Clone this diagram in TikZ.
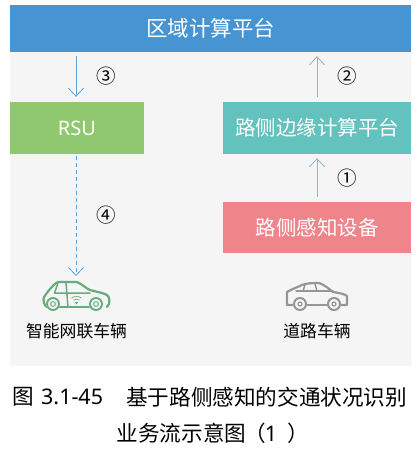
\documentclass[tikz,border=0pt]{standalone}
\usepackage{fontspec}
\setmainfont{Noto Sans CJK SC}
\newfontfamily\latinfont{Noto Sans}
\definecolor{panelbg}{HTML}{F5F5F5}
\definecolor{barblue}{HTML}{4794D3}
\definecolor{rsugreen}{HTML}{8FC86F}
\definecolor{edgeteal}{HTML}{63C2BD}
\definecolor{sensepink}{HTML}{F0848B}
\definecolor{arrowblue}{HTML}{5BA3DC}
\definecolor{arrowpale}{HTML}{85B6E0}
\definecolor{cargreen}{HTML}{66AC7C}
\definecolor{cargray}{HTML}{969696}
\usetikzlibrary{arrows.meta}
\tikzset{
  boxnode/.style={minimum height=#1,inner sep=0pt,text=white,font=\fontsize{20.5pt}{22pt}\selectfont},
  flowline/.style={draw=arrowpale,line width=1pt,-{Straight Barb[length=8pt,width=15pt,line width=0.8pt]}},
  flowdark/.style={flowline,draw=arrowblue},
  numtext/.style={inner sep=0pt,font=\fontsize{19.5pt}{20pt}\selectfont},
  labtext/.style={inner sep=0pt,text=black,font=\fontsize{16.8pt}{18pt}\selectfont},
  captext/.style={inner sep=0pt,text=black,font=\fontsize{21.6pt}{24pt}\selectfont},
  carline/.style={line width=2.2pt,line join=round,line cap=round},
  carthin/.style={line width=1.5pt,line join=round,line cap=round}
}
\begin{document}
\begin{tikzpicture}[x=1pt,y=-1pt]
\useasboundingbox (0,0) rectangle (418,458);
\fill[panelbg] (10,5) rectangle (411,366);
\node[boxnode=47pt,minimum width=401pt,fill=barblue] (top) at (210.5,28.5) {\fontsize{21.5pt}{23pt}\selectfont 区域计算平台};
\node[boxnode=52pt,minimum width=134pt,fill=rsugreen] (rsu) at (77,128) {\latinfont\fontsize{20pt}{22pt}\selectfont RSU};
\node[boxnode=52pt,minimum width=188pt,fill=edgeteal] (edge) at (317,128) {路侧边缘计算平台};
\node[boxnode=51pt,minimum width=188pt,fill=sensepink] (sense) at (317,227.5) {路侧感知设备};
\coordinate (car1top) at (76,276);
\draw[flowdark,shorten <=4pt,shorten >=5pt] (top.south -| car1top) -- (rsu.north -| car1top);
\draw[flowline,shorten <=5pt,shorten >=4pt] (edge.north) -- (top.south -| edge.north);
\draw[flowline,shorten <=5pt,shorten >=4pt] (sense.north) -- (edge.south);
\draw[flowdark,dash pattern=on 4pt off 3pt,shorten <=2pt] (rsu.south -| car1top) -- (car1top);
\node[numtext] (n3) at (106.5,76) {③};
\node[numtext] (n2) at (347,76) {②};
\node[numtext] (n1) at (347,178) {①};
\node[numtext] (n4) at (106.5,215) {④};
% connected car
\draw[cargreen,carline] (47,307) .. controls (43.5,305) and (43,300) .. (44,297)
  .. controls (47,293) and (52,285) .. (58,282) -- (77,282)
  .. controls (82,284) and (87,289) .. (90,290) .. controls (97,292) and (104,293) .. (107,295)
  .. controls (110,297) and (110.5,304) .. (107,307);
\draw[cargreen,carthin] (58,283) -- (54.5,293) -- (90,293);
\draw[cargreen,carthin] (66,283) -- (68,307);
\draw[cargreen,carline] (59,307) -- (90,307);
\fill[panelbg] (53,304) circle (7pt) (96,304) circle (7pt);
\draw[cargreen,line width=1.9pt] (53,304) circle (6pt) (96,304) circle (6pt);
\draw[cargreen,line width=1pt] (53,304) circle (2.4pt) (96,304) circle (2.4pt);
\draw[cargreen,line width=0.7pt] (71.5,298) .. controls (74,296) and (79,296) .. (81.5,298);
\draw[cargreen,line width=0.7pt] (73.5,300) .. controls (75,299) and (78,299) .. (79.5,300);
\draw[cargreen,line width=0.7pt] (75,302) .. controls (76,301.5) and (77,301.5) .. (78,302);
\fill[cargreen] (76.5,303.5) circle (0.9pt);
\node[labtext] (lab1) at (76.5,331) {智能网联车辆};
% road car
\draw[cargray,carline] (293,305) -- (287,305) -- (287,292) .. controls (292,289) and (298,287) .. (302,285)
  .. controls (307,283) and (314,283) .. (319,283)
  .. controls (325,285) and (329,289) .. (333,292) .. controls (339,293) and (345,294) .. (347,296) -- (347,305) -- (341,305);
\draw[cargray,carline] (307,305) -- (327,305);
\draw[cargray,carthin] (296,291) -- (333,291);
\draw[cargray,carthin] (305,285) -- (303,291);
\draw[cargray,carthin] (315,284) -- (317,291);
\fill[panelbg] (300,304) circle (7pt) (334,304) circle (7pt);
\draw[cargray,line width=2pt] (300,304) circle (6pt) (334,304) circle (6pt);
\draw[cargray,line width=1.2pt] (300,304) circle (2pt) (334,304) circle (2pt);
\node[labtext] (lab2) at (317,331) {道路车辆};
% caption
\node[captext,anchor=west] (c1) at (12,397) {图};
\node[captext,anchor=west] (c2) at (41,397) {\latinfont\fontsize{21.5pt}{24pt}\selectfont 3.1-45};
\node[captext,anchor=west] (c3) at (126,397) {基于路侧感知的交通状况识别};
\node[captext,anchor=west] (c4) at (116.5,433) {业务流示意图\hspace{-2pt}（\hspace{-1pt}{\latinfont\fontsize{21.5pt}{24pt}\selectfont 1}\hspace{10pt}）};
\end{tikzpicture}
\end{document}
